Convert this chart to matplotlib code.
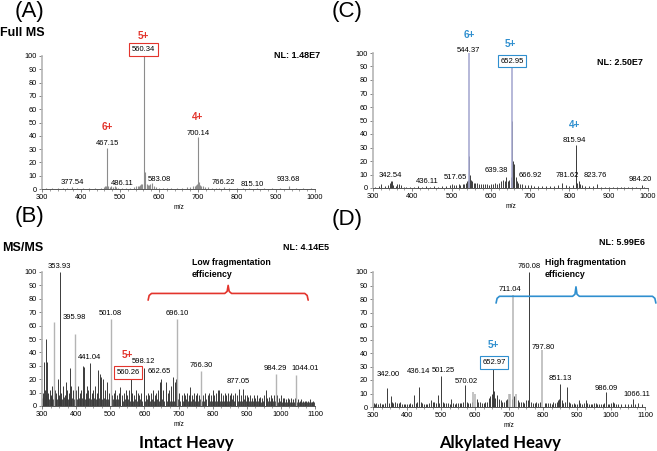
import matplotlib
matplotlib.use('Agg')
import matplotlib.pyplot as plt
from matplotlib.ticker import MultipleLocator

plt.rcParams['font.family'] = ['Liberation Sans', 'DejaVu Sans']

##### data #####
# (A) Full MS, intact heavy
mz_a = [310, 325, 340, 355, 365, 377.54, 390, 405, 420, 435, 450, 458, 462, 465, 467.15, 470, 474, 478,
        482, 486.11, 490, 495, 505, 515, 525, 535, 540, 545, 548, 552, 555, 557, 560.34, 563, 565, 568,
        571, 574, 578, 583.08, 587, 592, 600, 610, 620, 630, 645, 660, 672, 680, 688, 692, 696, 698,
        700.14, 702, 705, 708, 712, 718, 725, 735, 745, 755, 766.22, 780, 800, 815.10, 830, 850, 870,
        890, 910, 933.68, 950, 970, 990]
int_a = [0.8, 0.5, 0.7, 0.6, 0.9, 1.5, 0.6, 0.5, 0.7, 0.5, 0.8, 1.2, 2.0, 2.5, 31, 2.5, 1.5, 2.0,
         1.5, 2.5, 1.2, 1.0, 0.8, 1.0, 1.0, 1.5, 2.0, 2.0, 2.5, 3.0, 3.5, 4.0, 100, 13, 4, 3.5,
         3, 3, 3.5, 4.5, 2, 1.5, 1, 1, 0.8, 0.8, 0.8, 1, 1.5, 1.5, 2, 2.5, 3, 4,
         39, 5, 3, 2, 2, 1.5, 1.5, 1, 0.8, 0.6, 1.2, 0.5, 0.5, 0.7, 0.5, 0.5, 0.5,
         0.5, 0.5, 2.2, 0.4, 0.4, 0.4]

# (C) Full MS, alkylated heavy
mz_c_main = [544.37, 652.95]
int_c_main = [100, 92]
mz_c = [305, 315, 320, 330, 338, 342.54, 345, 348, 352, 358, 362, 366, 370, 378, 385, 395, 405, 415,
        425, 436.11, 445, 455, 465, 475, 485, 495, 500, 505, 510, 517.65, 522, 528, 532, 536, 540, 543,
        545.5, 547, 549, 552, 556, 560, 565, 570, 575, 580, 585, 590, 595, 600, 605, 610, 615, 620,
        625, 630, 635, 639.38, 643, 647, 650, 654, 656, 658, 660, 663, 666.92, 670, 675, 680, 688, 695,
        702, 710, 720, 730, 740, 750, 760, 770, 781.62, 790, 800, 810, 815.94, 816.5, 819, 823.76, 827,
        832, 840, 850, 860, 870, 880, 890, 900, 910, 920, 930, 940, 950, 960, 970, 984.20, 990]
int_c = [1, 1.5, 3, 1.5, 2, 4, 5, 5, 2, 1.5, 3, 3, 2, 1, 1, 1, 1, 1.2,
         1, 1.2, 1, 1.2, 1, 1.5, 1.5, 2, 3, 2, 2.5, 3, 2.5, 3, 3, 4, 5, 6,
         24, 10, 6, 5, 4, 4, 3.5, 3, 3, 3, 3, 3, 2.5, 3, 3, 4, 3, 4,
         5, 6, 5, 8, 5, 6, 8, 50, 20, 18, 12, 8, 5, 4, 3, 3, 2.5, 2,
         2, 1.5, 1.5, 1.5, 1.5, 1.5, 1.5, 2, 4, 2, 1.5, 2, 32, 21, 4, 5, 3,
         2, 1.5, 1.5, 1.5, 3, 1, 1, 1, 1, 1, 0.8, 1, 0.8, 0.8, 0.8, 2.5, 1]

# (B) MS/MS, intact heavy
mz_b_light = [334, 395.98, 501.08, 696.10, 766.30, 984.29, 1044.01]
int_b_light = [63, 54, 65, 65, 26, 24, 23]
mz_b = [302, 305, 308, 311, 314, 318, 322, 326, 330, 338, 342, 346, 350, 353.93, 357, 362, 366, 370,
        374, 378, 381, 385, 390, 399, 405, 410, 415, 419, 423, 428, 432, 436, 441.04, 446, 450, 455,
        460, 465, 469, 474, 480, 485, 490, 495, 505, 510, 515, 520, 525, 530, 535, 540, 545, 550,
        555, 560.26, 565, 570, 575, 580, 585, 590, 598.12, 605, 610, 615, 620, 625, 630, 635, 640, 645,
        650, 655, 662.65, 668, 672, 678, 685, 689, 693, 697, 702, 710, 715, 720, 725, 730, 735, 740,
        745, 750, 755, 760, 772, 778, 785, 790, 795, 800, 805, 810, 815, 820, 825, 830, 835, 840,
        845, 850, 855, 860, 865, 870, 877.05, 882, 890, 895, 900, 905, 910, 915, 920, 925, 930, 935,
        940, 945, 950, 955, 960, 965, 970, 975, 980, 986, 990, 995, 1000, 1005, 1010, 1015, 1020, 1025,
        1030, 1035, 1040, 1045, 1050, 1055, 1060, 1065, 1070, 1075, 1080, 1085, 1090, 1095]
int_b = [10, 33, 12, 50, 33, 10, 12, 8, 15, 12, 10, 20, 8, 100, 10, 15, 8, 18,
         12, 10, 28, 15, 12, 12, 15, 10, 12, 30, 29, 10, 15, 12, 32, 10, 12, 15,
         10, 27, 24, 22, 20, 12, 18, 10, 8, 10, 12, 8, 10, 14, 8, 10, 12, 8,
         12, 21, 10, 8, 12, 10, 8, 10, 28, 8, 10, 8, 10, 12, 8, 10, 12, 18,
         20, 12, 18, 10, 12, 15, 22, 18, 20, 48, 10, 8, 10, 8, 10, 8, 14, 8,
         10, 8, 10, 8, 8, 10, 8, 10, 8, 12, 8, 10, 12, 12, 10, 8, 10, 8,
         10, 8, 10, 8, 10, 8, 13, 8, 13, 8, 8, 7, 8, 6, 8, 6, 8, 6,
         7, 6, 8, 12, 6, 7, 8, 6, 8, 18, 8, 6, 8, 6, 6, 5, 6, 5,
         6, 5, 6, 12, 5, 4, 5, 4, 4, 4, 4, 5, 3, 4]
# low baseline between the fragment lines
mz_b_base = [300, 304, 309, 313, 317, 321, 325, 329, 333, 337, 341, 345, 349, 352, 356, 360, 364, 368,
             372, 376, 380, 384, 388, 393, 397, 402, 407, 412, 417, 421, 426, 430, 434, 439, 444, 448,
             453, 458, 462, 467, 472, 477, 482, 487, 492, 497, 503, 508, 513, 518, 523, 528, 533, 538,
             543, 548, 553, 558, 563, 568, 573, 578, 583, 588, 593, 602, 607, 612, 617, 622, 627, 632,
             637, 642, 647, 652, 658, 665, 670, 675, 681, 687, 699, 705, 712, 717, 722, 727, 732, 737,
             742, 747, 752, 757, 763, 769, 775, 781, 787, 792, 797, 802, 807, 812, 817, 822, 827, 832,
             837, 842, 847, 852, 857, 862, 867, 873, 880, 886, 892, 897, 902, 907, 912, 917, 922, 927,
             932, 937, 942, 947, 952, 957, 962, 967, 972, 977, 982, 992, 997, 1002, 1007, 1012, 1017, 1022,
             1027, 1032, 1037, 1042, 1048, 1052, 1057, 1062, 1067, 1072, 1077, 1082, 1087, 1092, 1097]
int_b_base = [6, 7, 5, 8, 6, 5, 7, 6, 5, 6, 7, 5, 6, 5, 6, 5, 7, 5,
              6, 5, 6, 5, 6, 5, 6, 5, 6, 5, 6, 5, 5, 6, 5, 6, 5, 5,
              6, 5, 5, 6, 5, 5, 6, 5, 5, 4, 5, 5, 4, 5, 5, 4, 5, 4,
              5, 4, 5, 4, 5, 4, 5, 4, 4, 5, 4, 4, 5, 4, 4, 5, 4, 4,
              5, 4, 4, 5, 4, 4, 5, 4, 4, 4, 5, 4, 4, 4, 5, 4, 4, 4,
              5, 4, 4, 4, 5, 4, 4, 5, 4, 4, 4, 5, 4, 4, 5, 4, 4, 4,
              5, 4, 4, 4, 5, 4, 4, 4, 4, 4, 5, 4, 4, 4, 4, 4, 4, 4,
              4, 4, 3, 4, 4, 3, 4, 4, 3, 4, 4, 3, 4, 3, 4, 3, 3, 4,
              3, 3, 3, 4, 3, 3, 3, 3, 3, 3, 3, 3, 3, 3, 3]

# (D) MS/MS, alkylated heavy
mz_d_light = [711.04, 797.80, 595, 600, 700, 704, 720]
int_d_light = [83, 42, 11, 10, 10, 10, 10]
mz_d = [302, 306, 310, 315, 320, 325, 330, 335, 342.00, 346, 352, 356, 360, 365, 370, 375, 380, 385,
        390, 395, 400, 405, 410, 415, 420, 425, 430, 436.14, 440, 445, 450, 455, 460, 465, 470, 475,
        480, 485, 490, 495, 501.25, 505, 510, 515, 520, 525, 530, 535, 540, 545, 550, 555, 560, 565,
        570.02, 575, 580, 585, 590, 605, 610, 615, 620, 625, 630, 635, 640, 645, 650, 652.97, 654, 657,
        660, 665, 670, 675, 680, 685, 690, 695, 708, 715, 725, 730, 735, 740, 745, 750, 755, 760.08,
        765, 770, 775, 780, 785, 790, 805, 810, 815, 820, 825, 830, 835, 840, 845, 848, 851.13, 855,
        860, 866, 870, 875, 880, 885, 890, 895, 900, 905, 910, 915, 920, 925, 930, 935, 940, 945,
        950, 955, 960, 965, 970, 975, 980, 986.09, 990, 995, 1000, 1005, 1010, 1015, 1020, 1030, 1040, 1050,
        1060, 1066.11, 1070, 1080, 1090]
int_d = [3, 2, 3, 2, 3, 2, 2, 3, 14, 3, 8, 4, 3, 4, 3, 3, 4, 2,
         2, 2, 2, 2, 3, 2, 9, 3, 4, 15, 4, 3, 2, 2, 2, 3, 5, 4,
         4, 3, 9, 3, 23, 4, 3, 3, 3, 2, 6, 3, 2, 3, 3, 3, 3, 4,
         16, 4, 3, 3, 4, 6, 4, 4, 3, 3, 4, 4, 7, 8, 10, 30, 20, 12,
         7, 9, 6, 5, 4, 4, 5, 6, 6, 8, 5, 4, 4, 4, 3, 5, 5, 100,
         4, 3, 3, 4, 3, 4, 3, 3, 3, 3, 2, 4, 3, 4, 5, 6, 17, 5,
         3, 4, 15, 4, 3, 2, 3, 2, 2, 5, 3, 2, 3, 5, 3, 2, 2, 2,
         3, 3, 2, 2, 2, 2, 3, 11, 2, 2, 3, 4, 3, 2, 2, 2, 2, 2,
         2, 6, 2, 3, 2]

# peak labels: text, x (m/z), y (%)
lab_a = [('377.54', 377, 5), ('486.11', 505, 4.5), ('583.08', 600, 7.5), ('766.22', 764, 5),
         ('815.10', 838, 3.7), ('933.68', 931, 6.8), ('467.15', 467, 34), ('700.14', 700, 42)]
lab_c = [('544.37', 542, 102), ('815.94', 812, 35), ('342.54', 343, 9), ('436.11', 437, 5),
         ('517.65', 509, 8), ('639.38', 615, 13), ('666.92', 700, 9.6), ('781.62', 795, 9),
         ('823.76', 866, 9.6), ('984.20', 980, 6)]
lab_b = [('353.93', 350, 104), ('395.98', 394, 66), ('441.04', 438, 36), ('501.08', 500, 69),
         ('598.12', 596, 33), ('662.65', 643, 26), ('696.10', 695, 69), ('766.30', 766, 30),
         ('877.05', 875, 18), ('984.29', 985, 28), ('1044.01', 1071, 28)]
lab_d = [('760.08', 759, 104), ('711.04', 703, 87), ('797.80', 800, 44), ('342.00', 344, 24),
         ('436.14', 435, 26), ('501.25', 507, 27), ('570.02', 574, 19), ('851.13', 850, 21),
         ('986.09', 985, 14), ('1066.11', 1076, 9)]

RED = '#e3342c'
BLUE = '#2f8fcf'

fig = plt.figure(figsize=(6.57, 4.51), dpi=100)


def make_axes(rect, xmax, minor):
    ax = fig.add_axes(rect)
    ax.set_xlim(300, xmax)
    ax.set_ylim(0, 100)
    for s in ['top', 'right']:
        ax.spines[s].set_visible(False)
    ax.spines['left'].set_color('#b5b5b5')
    ax.spines['left'].set_linewidth(1.2)
    ax.spines['bottom'].set_color('#555555')
    ax.spines['bottom'].set_linewidth(0.7)
    ax.xaxis.set_major_locator(MultipleLocator(100))
    ax.xaxis.set_minor_locator(MultipleLocator(minor))
    ax.yaxis.set_major_locator(MultipleLocator(10))
    ax.tick_params(labelsize=5.3, length=2.5, width=0.5, color='#555555', pad=1.2)
    ax.tick_params(which='minor', length=1.5, width=0.4, color='#555555')
    ax.set_xlabel('m/z', fontsize=4.8, labelpad=2)
    return ax


def put_labels(ax, labels):
    for txt, x, y in labels:
        ax.text(x, y, txt, ha='center', va='center', fontsize=5.5, clip_on=False)


def boxed(ax, txt, x, y, col):
    ax.text(x, y, txt, ha='center', va='center', fontsize=5.5, clip_on=False,
            bbox=dict(boxstyle='square,pad=0.35', fc='white', ec=col, lw=0.8))


def charge(ax, txt, x, y, col):
    ax.text(x, y, txt, ha='center', va='center', fontsize=7.2, fontweight='bold',
            color=col, clip_on=False)


def brace(ax, x0, x1, y, tip, end, col):
    xc = (x0 + x1) / 2
    xs = [x0, x0 + 3, x0 + 10, xc - 10, xc - 3, xc, xc + 3, xc + 10, x1 - 10, x1 - 3, x1]
    ys = [end, y - 1.5, y, y, y + 1.5, tip, y + 1.5, y, y, y - 1.5, end]
    ax.plot(xs, ys, color=col, lw=1.2, clip_on=False, solid_capstyle='round')


# (A)
ax = make_axes([42 / 657, 1 - 189 / 451, 273 / 657, 133 / 451], 1000, 20)
ax.vlines(mz_a, 0, int_a, color='#8c8c8c', lw=0.8)
put_labels(ax, lab_a)
boxed(ax, '560.34', 560, 105, RED)
charge(ax, '5+', 560, 115, RED)
charge(ax, '6+', 467, 46.6, RED)
charge(ax, '4+', 700, 54, RED)
ax.text(1.02, 1.0, 'NL: 1.48E7', transform=ax.transAxes, ha='right', va='center',
        fontsize=6.5, fontweight='bold')

# (C)
ax = make_axes([373 / 657, 1 - 188 / 451, 275 / 657, 135 / 451], 1000, 20)
ax.vlines(mz_c, 0, int_c, color='#3c3c3c', lw=0.7)
ax.vlines(mz_c_main, 0, int_c_main, color='#a9acd2', lw=1.2)
put_labels(ax, lab_c)
boxed(ax, '652.95', 654, 94, BLUE)
charge(ax, '5+', 649, 107, BLUE)
charge(ax, '6+', 544, 113, BLUE)
charge(ax, '4+', 812, 47, BLUE)
ax.text(0.98, 0.93, 'NL: 2.50E7', transform=ax.transAxes, ha='right', va='center',
        fontsize=6.5, fontweight='bold')

# (B)
ax = make_axes([42 / 657, 1 - 406 / 451, 273 / 657, 134 / 451], 1100, 25)
ax.vlines(mz_b_base, 0, int_b_base, color='#2a2a2a', lw=0.6)
ax.vlines(mz_b, 0, int_b, color='#3a3a3a', lw=0.7)
ax.vlines(mz_b_light, 0, int_b_light, color='#b4b4b4', lw=1.0)
put_labels(ax, lab_b)
boxed(ax, '560.26', 552, 25, RED)
charge(ax, '5+', 549, 38, RED)
brace(ax, 611, 1080, 84, 90, 79, RED)
ax.text(739, 107, 'Low fragmentation', ha='left', va='center', fontsize=6.3,
        fontweight='bold', clip_on=False)
ax.text(739, 98.5, 'efficiency', ha='left', va='center', fontsize=6.3,
        fontweight='bold', clip_on=False)
ax.text(1.05, 1.18, 'NL: 4.14E5', transform=ax.transAxes, ha='right', va='center',
        fontsize=6.5, fontweight='bold')

# (D)
ax = make_axes([373 / 657, 1 - 407 / 451, 272 / 657, 135 / 451], 1100, 25)
ax.vlines(mz_d, 0, int_d, color='#3a3a3a', lw=0.7)
ax.vlines(mz_d_light, 0, int_d_light, color='#b4b4b4', lw=1.1)
put_labels(ax, lab_d)
boxed(ax, '652.97', 656, 33, BLUE)
charge(ax, '5+', 653, 46, BLUE)
brace(ax, 662, 1132, 82, 89, 77, BLUE)
ax.text(806, 107, 'High fragmentation', ha='left', va='center', fontsize=6.3,
        fontweight='bold', clip_on=False)
ax.text(806, 98.5, 'efficiency', ha='left', va='center', fontsize=6.3,
        fontweight='bold', clip_on=False)
ax.text(1.0, 1.22, 'NL: 5.99E6', transform=ax.transAxes, ha='right', va='center',
        fontsize=6.5, fontweight='bold')

# panel letters and headings
fig.text(30 / 657, 1 - 12 / 451, '(A)', ha='center', va='center', fontsize=16)
fig.text(347 / 657, 1 - 12 / 451, '(C)', ha='center', va='center', fontsize=16)
fig.text(30 / 657, 1 - 216 / 451, '(B)', ha='center', va='center', fontsize=16)
fig.text(347 / 657, 1 - 220 / 451, '(D)', ha='center', va='center', fontsize=16)
fig.text(0, 1 - 33 / 451, 'Full MS', ha='left', va='center', fontsize=9, fontweight='bold')
fig.text(2 / 657, 1 - 248 / 451, 'MS/MS', ha='left', va='center', fontsize=9, fontweight='bold')
fig.text(186 / 657, 1 - 443 / 451, 'Intact Heavy', ha='center', va='center', fontsize=12,
         fontweight='bold', family=['Lato', 'DejaVu Sans'])
fig.text(500 / 657, 1 - 443 / 451, 'Alkylated Heavy', ha='center', va='center', fontsize=12,
         fontweight='bold', family=['Lato', 'DejaVu Sans'])

fig.savefig('out.png', dpi=100)
